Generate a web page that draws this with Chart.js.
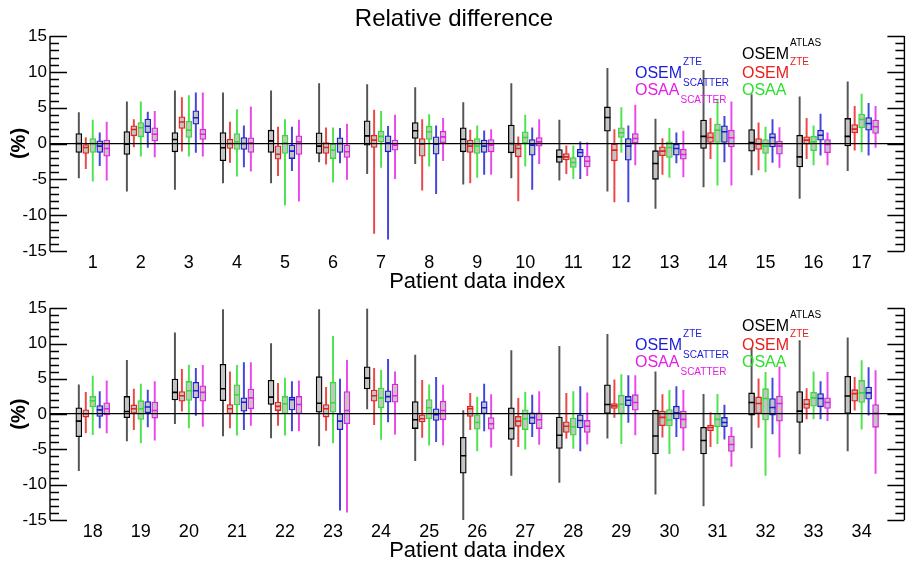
<!DOCTYPE html>
<html>
<head>
<meta charset="utf-8">
<script src="https://cdn.jsdelivr.net/npm/chart.js@4/dist/chart.umd.min.js"></script>
<style>
    html, body { margin: 0; padding: 0; background: #fff; }
    #wrap { position: relative; width: 910px; height: 569px; }
    #grafico_1 { position: absolute; left: 0; top: 0; }
    #grafico_2 { position: absolute; left: 0; top: 295px; }
</style>
</head>
<body>
<div id="wrap">
    <canvas id="grafico_1" width="910" height="295"></canvas>
    <canvas id="grafico_2" width="910" height="274"></canvas>
</div>
<script>
// indice dos pacientes
const pacientes = [1, 2, 3, 4, 5, 6, 7, 8, 9, 10, 11, 12, 13, 14, 15, 16, 17,
    18, 19, 20, 21, 22, 23, 24, 25, 26, 27, 28, 29, 30, 31, 32, 33, 34];

const ticksY = [-15, -10, -5, 0, 5, 10, 15];

// cada linha: [min, q1, mediana, q3, max] (%)
const osemAtlas = [
    [-4.8, -1.26, 0, 1.4, 4.3], [-6.65, -1.53, -0.1, 1.67, 5.8], [-6.4, -1.16, 0.56, 1.53, 7.35],
    [-5.5, -2.4, -0.6, 1.53, 7.07], [-5.5, -1.26, 0.37, 1.86, 7.35], [-2.56, -1.4, -0.37, 1.5, 8.37],
    [-4.2, -0.23, 1.07, 3.16, 8.23], [-2.8, 0.7, 1.77, 2.93, 7.8], [-5.67, -1.16, 0.6, 2.2, 5.7],
    [-4.8, -1.3, 0, 2.56, 8.37], [-5.1, -2.65, -1.86, -0.84, 3.26], [-6.65, 1.72, 3.63, 5.1, 10.5],
    [-9.07, -5.0, -2.8, -1.0, 3.4], [-6.05, -0.7, 1.0, 3.26, 10.2], [-4.4, -1.07, 0.14, 1.95, 6.84],
    [-7.67, -3.26, -1.86, 1.16, 6.5], [-3.8, -0.33, 1.0, 3.5, 8.6],
    [-8.0, -3.2, -1.0, 0.9, 4.16], [-3.8, -0.5, 0.37, 2.5, 7.6], [-1.36, 2.0, 3.08, 4.95, 11.5],
    [-3.1, 1.9, 3.6, 7.05, 14.8], [-3.36, 1.36, 2.4, 4.8, 10.0], [-4.5, 0.28, 1.54, 5.3, 14.8],
    [0.75, 3.55, 5.1, 6.7, 14.9], [-6.6, -2.05, -0.8, 1.78, 8.36], [-15, -8.36, -5.9, -3.3, 0.5],
    [-8.7, -3.6, -2.05, 0.9, 9.0], [-9.67, -4.86, -3.0, -0.42, 9.6], [-3.4, 0.1, 1.36, 4.16, 11.3],
    [-11.35, -5.65, -3.1, 0.56, 6.0], [-13.0, -5.65, -3.74, -1.87, 2.8], [-4.8, -0.14, 1.64, 3.0, 9.3],
    [-5.65, -1.17, 0.42, 3.2, 10.4], [-5.2, 0, 2.57, 5.37, 10.8]
];

const osemZte = [
    [-3.5, -1.4, -0.56, -0.14, 0.84], [-0.47, 1.07, 1.95, 2.47, 3.35], [-1.07, 2.1, 3.0, 3.72, 6.4],
    [-2.65, -0.7, 0, 0.6, 3.0], [-4.5, -2.2, -1.5, -0.33, 2.3], [-2.9, -1.4, -0.56, 0.14, 2.2],
    [-12.56, -0.56, 0.47, 1.16, 4.65], [-6.5, -1.77, -0.1, 0.7, 3.35], [-5.5, -1.26, -0.37, 0.47, 1.86],
    [-8.0, -1.86, -0.7, -0.14, 0.93], [-4.2, -2.3, -1.86, -1.4, -0.33], [-8.14, -2.42, -0.93, 0, 1.95],
    [-4.3, -1.72, -1.07, -0.47, 0.7], [-2.1, 0.14, 0.84, 1.53, 3.5], [-3.7, -0.84, -0.1, 0.7, 2.9],
    [-2.1, -0.1, 0.47, 0.93, 3.5], [-0.93, 1.49, 2.0, 2.65, 5.2],
    [-2.66, -0.42, 0.05, 0.6, 3.1], [-2.2, 0.14, 0.75, 1.3, 3.55], [0.42, 1.82, 2.6, 3.2, 6.35],
    [-1.96, 0.05, 0.75, 1.36, 6.0], [-1.6, 0.5, 1.1, 1.7, 4.35], [-2.3, -0.42, 0.75, 1.36, 3.8],
    [-1.5, 1.82, 2.6, 3.4, 6.5], [-3.3, -1.1, -0.65, -0.1, 4.8], [-2.2, -0.33, 0.75, 1.12, 2.95],
    [-4.6, -1.73, -1.0, -0.33, 2.25], [-3.46, -2.6, -1.73, -1.1, 2.95], [-0.47, 0.8, 1.17, 1.5, 4.86],
    [-3.27, -1.64, -0.47, 0.42, 2.75], [-4.6, -2.34, -1.9, -1.54, 0.23], [-1.87, 0.1, 1.5, 2.43, 5.0],
    [-0.7, 0.8, 1.4, 2.1, 3.6], [0.56, 1.82, 2.9, 3.46, 5.2]
];

const osaa = [
    [-5.26, -1.26, 0, 0.7, 3.26], [-1.77, 0.93, 2.2, 2.93, 5.8], [-1.77, 0.84, 1.86, 3.1, 6.7],
    [-4.56, -0.84, 0.23, 1.4, 4.74], [-8.6, -1.4, 0.1, 1.16, 3.35], [-5.4, -2.1, -0.93, 0, 2.2],
    [-3.35, 0.23, 1.0, 1.72, 4.5], [-3.16, 0.56, 1.63, 2.42, 4.05], [-4.74, -1.4, -0.37, 0.7, 2.47],
    [-3.16, 0, 0.84, 1.63, 3.95], [-4.9, -3.35, -2.65, -1.95, -0.33], [-1.26, 0.84, 1.49, 2.19, 5.0],
    [-4.74, -1.95, -0.56, 0.23, 2.1], [-5.8, 0.14, 1.86, 2.7, 6.14], [-3.95, -1.4, -0.37, 0.56, 2.3],
    [-3.0, -1.0, 0.23, 1.0, 2.47], [-1.16, 2.19, 3.35, 4.1, 6.9],
    [-2.9, 1.0, 1.9, 2.5, 5.4], [-4.07, -0.75, 0.75, 1.9, 4.25], [-1.96, 1.92, 3.3, 4.63, 6.96],
    [-3.0, 1.3, 2.75, 4.16, 6.9], [-3.0, 0.05, 1.45, 2.5, 5.1], [-4.07, 0.28, 1.6, 4.5, 11.0],
    [-3.6, 0.9, 2.3, 3.7, 6.2], [-4.4, -0.65, 0.9, 2.05, 4.16], [-5.2, -2.15, -1.2, -0.1, 2.4],
    [-4.95, -2.2, -0.65, 0.6, 3.1], [-4.86, -3.0, -1.8, -0.56, 3.18], [-4.2, 0.1, 1.4, 2.66, 5.6],
    [-5.6, -1.68, -0.84, 0.65, 3.36], [-4.2, -1.78, -0.75, 0.1, 2.8], [-8.7, -0.84, 2.2, 3.6, 5.9],
    [-0.7, 1.12, 2.3, 3.1, 6.0], [-2.15, 1.64, 3.0, 4.77, 7.57]
];

const osemZteScatter = [
    [-3.1, -1.26, -0.37, 0.37, 1.5], [-0.56, 1.5, 2.4, 3.4, 4.4], [-1.26, 2.7, 3.6, 4.56, 7.07],
    [-3.26, -0.84, 0, 0.84, 2.47], [-3.8, -2.1, -1.07, -0.23, 2.3], [-2.7, -1.26, 0, 0.79, 2.1],
    [-13.35, -1.16, 0.1, 1.07, 2.4], [-7.0, -1.5, -0.1, 0.93, 2.47], [-4.3, -1.26, -0.37, 0.47, 1.77],
    [-6.4, -1.63, -0.23, 0.56, 2.2], [-4.9, -1.86, -1.26, -0.8, 0.23], [-8.14, -2.33, -0.37, 0.7, 2.47],
    [-2.7, -1.63, -0.7, -0.1, 1.5], [-2.56, 0.14, 1.63, 2.47, 3.8], [-2.65, -0.47, 0.84, 1.4, 3.35],
    [-1.63, 0.47, 1.16, 1.86, 4.1], [-1.63, 1.86, 2.8, 3.63, 5.6],
    [-1.96, -0.33, 0.6, 1.2, 3.18], [-1.8, 0.19, 1.0, 1.78, 3.4], [-0.2, 2.3, 3.3, 4.5, 6.5],
    [-2.2, 0.42, 1.68, 2.3, 7.3], [-2.4, 0.6, 2.05, 2.4, 4.6], [-13.6, -2.2, -1.0, 0.05, 4.95],
    [-1.1, 1.68, 2.48, 3.3, 7.75], [-3.9, -0.9, -0.1, 0.75, 5.2], [-2.4, 0.05, 0.9, 1.78, 4.25],
    [-3.2, -1.36, -0.5, 0.19, 2.7], [-5.2, -1.96, -0.9, -0.1, 3.9], [-1.17, 1.17, 1.96, 2.5, 5.47],
    [-3.18, -0.7, 0.19, 1.12, 3.9], [-3.55, -1.78, -1.2, -0.47, 1.26], [-2.8, -0.14, 0.93, 2.2, 5.1],
    [-0.7, 1.03, 2.2, 2.9, 4.6], [-0.14, 2.1, 3.0, 3.83, 6.6]
];

const osaaScatter = [
    [-5.1, -1.77, -0.7, 0.47, 3.0], [-1.86, 0.37, 1.3, 2.2, 4.5], [-1.77, 0.56, 1.3, 2.0, 7.07],
    [-3.86, -1.26, 0.1, 0.79, 5.1], [-8.05, -1.53, 0.23, 1.07, 3.26], [-5.0, -1.95, -1.16, -0.23, 2.7],
    [-4.9, -0.93, -0.23, 0.47, 3.95], [-2.4, 0.1, 0.93, 1.72, 3.5], [-4.3, -1.16, -0.23, 0.56, 1.95],
    [-2.8, -0.37, 0.23, 0.84, 3.35], [-4.5, -3.26, -2.47, -1.77, 0.14], [-3.0, 0, 0.7, 1.4, 5.35],
    [-4.65, -2.2, -1.53, -0.8, 1.72], [-5.8, -0.47, 0.8, 1.86, 5.8], [-3.35, -1.49, -0.37, 0.33, 2.23],
    [-3.0, -1.3, -0.14, 0.56, 1.5], [-0.56, 1.4, 2.33, 3.26, 5.2],
    [-2.66, -0.1, 0.75, 1.6, 4.7], [-3.7, -0.56, 0.5, 1.7, 4.6], [-1.73, 1.82, 3.08, 4.0, 6.9],
    [-1.6, 0.75, 2.3, 3.55, 7.3], [-2.4, 0.05, 1.36, 2.5, 4.7], [-13.9, -1.36, 0.5, 3.18, 7.6],
    [-2.85, 1.68, 2.6, 4.25, 6.0], [-4.4, -0.8, 0.5, 1.82, 4.1], [-4.7, -2.15, -1.36, -0.5, 2.75],
    [-4.3, -2.05, -0.8, 0.19, 3.2], [-4.25, -2.6, -1.73, -0.9, 3.0], [-2.95, 0.56, 1.64, 2.75, 5.47],
    [-5.14, -2.0, -0.75, 0.42, 3.36], [-7.4, -5.3, -4.3, -3.1, -1.87], [-6.1, -1.0, 1.5, 2.57, 6.7],
    [-0.93, 0.8, 1.64, 2.3, 5.9], [-8.4, -1.87, 0.1, 1.36, 6.17]
];

// cores das series
const PRETO = '#000000';
const VERMELHO = '#e8201e';
const VERDE = '#2ee02e';
const AZUL = '#1c1cd8';
const MAGENTA = '#e41ee4';

const series = [
    { valores: osemAtlas, cor: PRETO, haste: '#555555' },
    { valores: osemZte, cor: VERMELHO, haste: '#ee4646' },
    { valores: osaa, cor: VERDE, haste: '#4ee44e' },
    { valores: osemZteScatter, cor: AZUL, haste: '#4444e0' },
    { valores: osaaScatter, cor: MAGENTA, haste: '#ea48ea' }
];

// legenda com sobrescrito / subscrito (coluna, linha)
const legenda = [
    { col: 0, lin: 1, texto: 'OSEM', sup: 'ZTE', sub: 'SCATTER', cor: AZUL },
    { col: 0, lin: 2, texto: 'OSAA', sub: 'SCATTER', cor: MAGENTA },
    { col: 1, lin: 0, texto: 'OSEM', sup: 'ATLAS', cor: PRETO },
    { col: 1, lin: 1, texto: 'OSEM', sup: 'ZTE', cor: VERMELHO },
    { col: 1, lin: 2, texto: 'OSAA', cor: VERDE }
];

const passoCaixa = 0.145; // distancia entre caixas do mesmo paciente
const FONTE = "'Liberation Sans', Arial, sans-serif";

Chart.defaults.color = '#000';
Chart.defaults.font.family = FONTE;

function montarDatasets(ini, fim) {
    var ds = [];
    series.forEach((s, k) => {
        const dx = (k - 2) * passoCaixa;
        const hastes = [], caixas = [], medianas = [];
        for (let i = ini; i < fim; i++) {
            const v = s.valores[i];
            const px = pacientes[i] + dx;
            hastes.push({ x: px, y: [v[0], v[4]] });
            caixas.push({ x: px, y: [v[1], v[3]] });
            medianas.push({ x: px, y: v[2] });
        }
        ds.push({
            type: 'bar', data: hastes, backgroundColor: s.haste,
            barThickness: 1.3, grouped: false, order: 3
        });
        ds.push({
            type: 'bar', data: caixas, backgroundColor: '#c4c4c4',
            borderColor: s.cor, borderWidth: 1.3, borderSkipped: false,
            barThickness: 6, grouped: false, order: 2
        });
        ds.push({
            type: 'scatter', data: medianas, pointStyle: 'line',
            pointRadius: 3, borderColor: s.cor, borderWidth: 1.6, order: 1
        });
    });
    return ds;
}

// ticks internos, eixos esquerdo/direito e legenda
const molduraPlugin = {
    id: 'moldura',
    afterDraw(chart) {
        const ctx = chart.ctx;
        const a = chart.chartArea;
        const y = chart.scales.y;
        ctx.save();
        ctx.strokeStyle = '#000';
        ctx.lineWidth = 1.4;
        ctx.beginPath();
        ctx.moveTo(a.left, a.top); ctx.lineTo(a.left, a.bottom);
        ctx.moveTo(a.right, a.top); ctx.lineTo(a.right, a.bottom);
        for (let v = y.min; v <= y.max; v++) {
            const py = Math.round(y.getPixelForValue(v)) + 0.5;
            const len = (v % 5 === 0) ? 17 : 9;
            ctx.moveTo(a.left, py); ctx.lineTo(a.left + len, py);
            ctx.moveTo(a.right, py); ctx.lineTo(a.right - len, py);
        }
        ctx.stroke();

        const colX = [585, 692];
        const linY = [23, 42, 59];
        ctx.textBaseline = 'alphabetic';
        ctx.textAlign = 'left';
        legenda.forEach(l => {
            const x = a.left + colX[l.col];
            const b = a.top + linY[l.lin];
            ctx.fillStyle = l.cor;
            ctx.font = '16px ' + FONTE;
            ctx.fillText(l.texto, x, b);
            const w = ctx.measureText(l.texto).width + 1;
            ctx.font = '10px ' + FONTE;
            if (l.sup) ctx.fillText(l.sup, x + w, b - 13.5);
            if (l.sub) ctx.fillText(l.sub, x + w, b + 7.5);
        });
        ctx.restore();
    }
};

function opcoes(ini, fim, comTitulo, alturaX, tituloXPad, padTopo) {
    return {
        responsive: false,
        animation: false,
        layout: { padding: { left: 0, right: 2, top: padTopo, bottom: 0 } },
        plugins: {
            legend: { display: false },
            tooltip: { enabled: false },
            title: {
                display: comTitulo,
                text: 'Relative difference',
                font: { size: 24, weight: 'normal' },
                padding: { top: 5, bottom: 2.2 }
            }
        },
        scales: {
            x: {
                type: 'linear',
                offset: false,
                min: pacientes[ini] - 0.89,
                max: pacientes[fim - 1] + 0.89,
                afterBuildTicks: (sc) => {
                    sc.ticks = pacientes.slice(ini, fim).map(v => ({ value: v }));
                },
                afterFit: (sc) => { sc.height = alturaX; },
                grid: { display: false, drawTicks: false, offset: false },
                border: { display: false },
                ticks: {
                    autoSkip: false, maxRotation: 0, padding: 1,
                    font: { size: 18 }
                },
                title: {
                    display: true, text: 'Patient data index',
                    font: { size: 22 },
                    padding: { top: 0, bottom: tituloXPad }
                }
            },
            y: {
                min: -15,
                max: 15,
                afterBuildTicks: (sc) => {
                    sc.ticks = ticksY.map(v => ({ value: v }));
                },
                afterFit: (sc) => { sc.width = 50; },
                grid: {
                    z: 1,
                    drawTicks: false,
                    lineWidth: 1.3,
                    color: (c) => (c.tick && c.tick.value === 0) ? '#000' : 'rgba(0,0,0,0)'
                },
                border: { display: false },
                ticks: { padding: 3, font: { size: 17 } },
                title: {
                    display: true, text: '(%)',
                    font: { size: 20, weight: 'bold' },
                    padding: { top: 7, bottom: 0 }
                }
            }
        }
    };
}

var grafico1 = new Chart(document.getElementById('grafico_1').getContext('2d'), {
    type: 'bar',
    data: { datasets: montarDatasets(0, 17) },
    options: opcoes(0, 17, true, 44, 0, 0),
    plugins: [molduraPlugin]
});

var grafico2 = new Chart(document.getElementById('grafico_2').getContext('2d'), {
    type: 'bar',
    data: { datasets: montarDatasets(17, 34) },
    options: opcoes(17, 34, false, 49, 5, 11),
    plugins: [molduraPlugin]
});
</script>
</body>
</html>
